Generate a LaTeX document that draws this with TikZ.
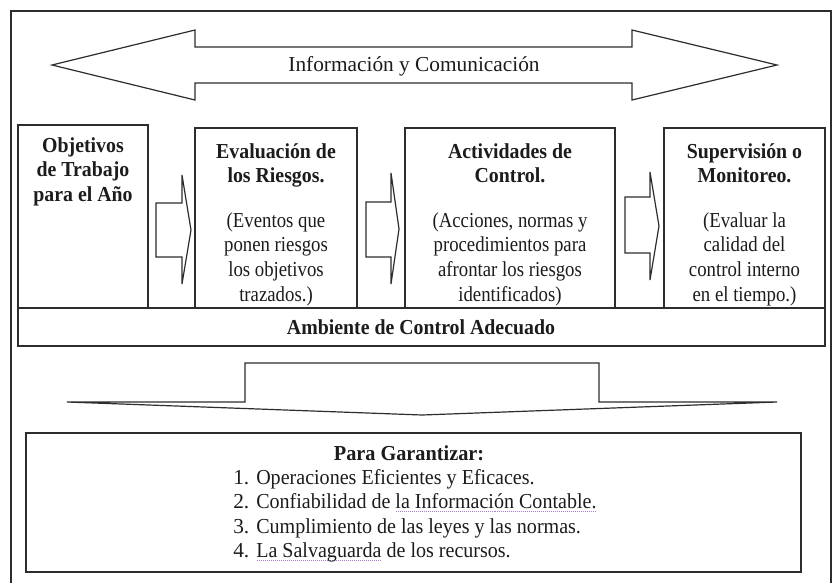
\documentclass[tikz,border=0pt]{standalone}
\usepackage{fontspec}
\setmainfont{Liberation Serif}
\usepackage{graphicx}
\usetikzlibrary{fit}
\definecolor{ink}{RGB}{28,28,28}
\definecolor{edge}{RGB}{45,45,45}
\definecolor{dul}{RGB}{175,125,205}
\newcommand{\sqz}[2]{\scalebox{#1}[1]{\begin{tabular}[t]{@{}c@{}}#2\end{tabular}}}
\newcommand{\dotul}[1]{\setbox0\hbox{#1}\rlap{\color{dul}\raisebox{-3.2pt}{\hbox to \wd0{\xleaders\hbox to 1.6pt{\hss\rule{0.8pt}{0.7pt}\hss}\hfill}}}\box0\relax}
\begin{document}
\begin{tikzpicture}[x=0.75pt,y=-0.75pt,
  blockarrow/.style={draw=edge, line width=0.9pt, fill=white, line join=miter},
  boxst/.style={draw=edge, line width=0.9pt, inner sep=0pt},
  txt/.style={anchor=base, inner sep=0pt, text=ink, font=\fontsize{16}{18.5}\selectfont},
  btxt/.style={anchor=base, inner sep=0pt, text=ink, font=\fontsize{16}{18.5}\selectfont\bfseries},
  ltxt/.style={anchor=base west, inner sep=0pt, text=ink, font=\fontsize{16}{18.5}\selectfont}]
\useasboundingbox (0,0) rectangle (833,583);
\fill[white] (0,0) rectangle (833,583);

% outer frame
\draw[edge, line width=0.9pt] (11,583) -- (11,11) -- (831,11) -- (831,583);

% top double arrow
\draw[blockarrow] (52,65) -- (195,30) -- (195,47) -- (632,47) -- (632,30) -- (777,65)
  -- (632,100) -- (632,83) -- (195,83) -- (195,100) -- cycle;
\node[txt] (info) at (414,71) {Información y Comunicación};

% component boxes
\node[boxst, fit={(18,125) (148,308)}] (b1) {};
\node[boxst, fit={(195,128) (357,308)}] (b2) {};
\node[boxst, fit={(405,128) (615,308)}] (b3) {};
\node[boxst, fit={(664,128) (825,308)}] (b4) {};

\node[btxt] (t1) at (83,152) {\sqz{0.93}{Objetivos\\de Trabajo\\para el Año}};
\node[btxt] (t2) at (276,158) {\sqz{0.93}{Evaluación de\\los Riesgos.}};
\node[txt]  (d2) at (276,227) {\sqz{0.88}{(Eventos que\\ponen riesgos\\los objetivos\\trazados.)}};
\node[btxt] (t3) at (510,158) {\sqz{0.93}{Actividades de\\Control.}};
\node[txt]  (d3) at (510,227) {\sqz{0.88}{(Acciones, normas y\\procedimientos para\\afrontar los riesgos\\identificados)}};
\node[btxt] (t4) at (744.5,158) {\sqz{0.93}{Supervisión o\\Monitoreo.}};
\node[txt]  (d4) at (744.5,227) {\sqz{0.88}{(Evaluar la\\calidad del\\control interno\\en el tiempo.)}};

% arrows between boxes
\draw[blockarrow] (156,203) -- (182,203) -- (182,175) -- (191,230) -- (182,284) -- (182,257) -- (156,257) -- cycle;
\draw[blockarrow] (366,202) -- (391,202) -- (391,173) -- (399,229) -- (391,284) -- (391,257) -- (366,257) -- cycle;
\draw[blockarrow] (625,197) -- (650,197) -- (650,172) -- (659,226) -- (650,280) -- (650,253) -- (625,253) -- cycle;

% control environment
\node[boxst, fit={(18,308) (825,346)}] (amb) {};
\node[btxt] (ambt) at (421,334) {\sqz{0.93}{Ambiente de Control Adecuado}};

% down arrow
\draw[blockarrow] (245,363) -- (599,363) -- (599,402) -- (777,402) -- (422,415) -- (67,402) -- (245,402) -- cycle;

% bottom box
\node[boxst, fit={(26,433) (801,572)}] (gar) {};
\node[btxt] (gart) at (409,460) {\sqz{0.95}{Para Garantizar:}};
\node[ltxt] (n1) at (233,484) {1.};
\node[ltxt] (n2) at (233,508) {2.};
\node[ltxt] (n3) at (233,533) {3.};
\node[ltxt] (n4) at (233,557) {4.};
\node[ltxt] (i1) at (256,484) {\scalebox{0.94}[1]{Operaciones Eficientes y Eficaces.}};
\node[ltxt] (i2) at (256,508) {\scalebox{0.94}[1]{Confiabilidad de \dotul{la Información Contable.}}};
\node[ltxt] (i3) at (256,533) {\scalebox{0.94}[1]{Cumplimiento de las leyes y las normas.}};
\node[ltxt] (i4) at (256,557) {\scalebox{0.94}[1]{\dotul{La Salvaguarda} de los recursos.}};
\end{tikzpicture}
\end{document}
